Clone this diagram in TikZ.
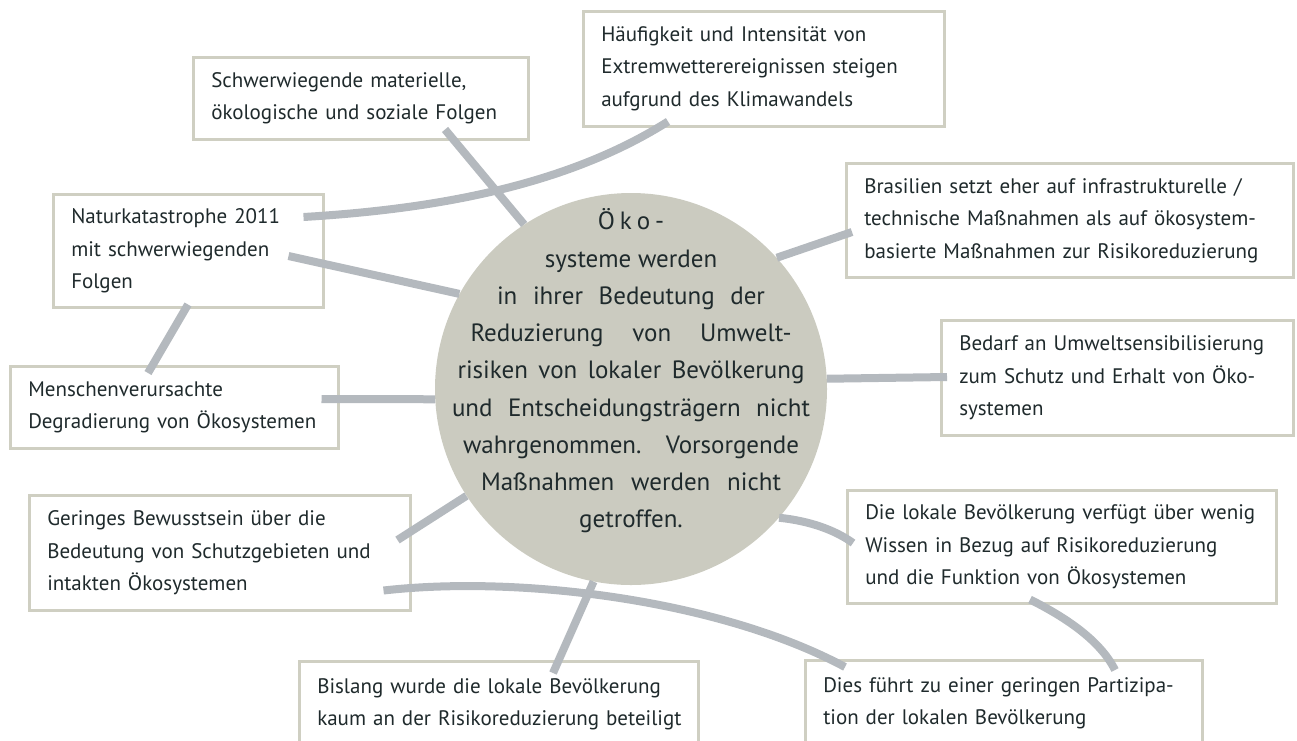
\documentclass[tikz,border=0pt]{standalone}
\usepackage{fontspec}
\setmainfont{PT Sans}
\usepackage{tikz}
\usetikzlibrary{positioning}

\definecolor{Rahmen}{HTML}{CFCFC2}
\definecolor{Verbindung}{HTML}{B4B9BE}
\definecolor{Kreis}{HTML}{CBCBC0}
\definecolor{Schrift}{HTML}{1F2A2C}
\newcommand{\zeile}[2]{\makebox[#1pt][s]{#2}}

\begin{document}
\begin{tikzpicture}
  [
    x = 1pt, y = -1pt,
    box/.style = {draw=Rahmen, line width=2.5pt, fill=white, anchor=north west,
                  inner xsep=18pt, inner ysep=0pt, align=left, text=Schrift,
                  font=\fontsize{21}{32.5}\selectfont},
    kern/.style = {circle, fill=Kreis, minimum size=392pt, inner sep=0pt},
    kerntext/.style = {align=center, text=Schrift, inner sep=0pt,
                  font=\fontsize{25}{37.25}\selectfont},
    link/.style = {draw=Verbindung, line width=8pt},
  ]
  \useasboundingbox (0,0) rectangle (1297,740);

  \node[box, text width=299pt, minimum height=82pt] (folgen) at (192,56)
    {Schwerwiegende materielle,\\ökologische und soziale Folgen};
  \node[box, text width=325pt, minimum height=115pt] (klima) at (582,10)
    {Häufigkeit und Intensität von\\Extremwetterereignissen steigen\\aufgrund des Klimawandels};
  \node[box, text width=234pt, minimum height=113pt] (natur) at (52,193)
    {Naturkatastrophe 2011\\mit schwerwiegenden\\Folgen};
  \node[box, text width=292pt, minimum height=82pt] (mensch) at (9,365)
    {Menschenverursachte\\\mbox{Degradierung von Ökosystemen}};
  \node[box, text width=411pt, minimum height=114pt] (brasil) at (845,162)
    {Brasilien setzt eher auf infrastrukturelle /\\technische Maßnahmen als auf ökosystem-\\basierte Maßnahmen zur Risikoreduzierung};
  \node[box, text width=316pt, minimum height=115pt] (bedarf) at (940,319)
    {Bedarf an Umweltsensibilisierung\\zum Schutz und Erhalt von Öko-\\systemen};
  \node[box, text width=345pt, minimum height=115pt] (gering) at (28,494)
    {Geringes Bewusstsein über die\\Bedeutung von Schutzgebieten und\\intakten Ökosystemen};
  \node[box, text width=393pt, minimum height=113pt] (wissen) at (846,489)
    {\mbox{Die lokale Bevölkerung verfügt über wenig}\\Wissen in Bezug auf Risikoreduzierung\\und die Funktion von Ökosystemen};
  \node[box, text width=361pt, minimum height=86pt] (partizip) at (804,659)
    {Dies führt zu einer geringen Partizipa-\\tion der lokalen Bevölkerung};
  \node[box, text width=363pt, minimum height=86pt] (bislang) at (298,660)
    {Bislang wurde die lokale Bevölkerung\\\mbox{kaum an der Risikoreduzierung beteiligt}};

  \node[kern] (zentrum) at (631,389) {};
  \node[kerntext] (kerntext) at (631,371)
    {Ö\hspace{5pt}k\hspace{5pt}o\hspace{5pt}-\\
     systeme werden\\
     \zeile{268}{in ihrer Bedeutung der}\\
     \zeile{321}{Reduzierung von Umwelt-}\\
     \zeile{347}{risiken von lokaler Bevölkerung}\\
     \zeile{358}{und Entscheidungsträgern nicht}\\
     \zeile{336}{wahrgenommen. Vorsorgende}\\
     \zeile{300}{Maßnahmen werden nicht}\\
     getroffen.};

  \draw[link] ([shift={(253,-11)}]folgen.south west) -- (zentrum.123);
  \draw[link] ([shift={(86,-6)}]klima.south west) .. controls (560,190) and (420,210) .. ([shift={(-21,24)}]natur.north east);
  \draw[link] ([shift={(-36,63)}]natur.north east) -- (zentrum.151.5);
  \draw[link] ([shift={(136,-4)}]natur.south west) -- ([shift={(139,8)}]mensch.north west);
  \draw[link] ([shift={(-18,34)}]mensch.north east) -- (zentrum.183);
  \draw[link] ([shift={(7,70)}]brasil.north west) -- (zentrum.42);
  \draw[link] ([shift={(7,58)}]bedarf.north west) -- (zentrum.3.5);
  \draw[link] ([shift={(-14,46)}]gering.north east) -- (zentrum.213.4);
  \draw[link] ([shift={(-28,-21)}]gering.south east) .. controls (520,575) and (720,600) .. ([shift={(41,8)}]partizip.north west);
  \draw[link] (zentrum.-41) .. controls (810,521) and (835,530) .. ([shift={(7,54)}]wissen.north west);
  \draw[link] ([shift={(184,-5)}]wissen.south west) .. controls (1065,617) and (1100,640) .. ([shift={(311,11)}]partizip.north west);
  \draw[link] ([shift={(255,13)}]bislang.north west) -- (zentrum.259);

\end{tikzpicture}
\end{document}
